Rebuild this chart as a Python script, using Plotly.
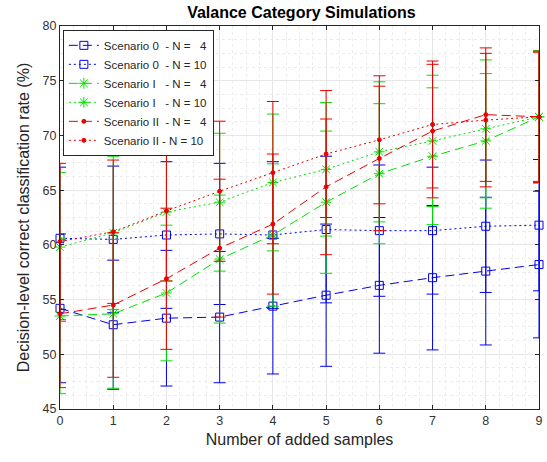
import plotly.graph_objects as go

samples = list(range(10))

s0_n4 = [54.2, 52.7, 53.3, 53.4, 54.4, 55.4, 56.3, 57.0, 57.6, 58.2]
s0_n10 = [60.6, 60.5, 60.9, 61.0, 60.9, 61.4, 61.3, 61.3, 61.7, 61.8]
sI_n4 = [53.5, 53.7, 55.6, 58.7, 60.9, 63.9, 66.5, 68.1, 69.5, 71.7]
sI_n10 = [59.8, 61.1, 63.0, 63.9, 65.7, 66.9, 68.5, 69.5, 70.6, 71.7]
sII_n4 = [53.7, 54.5, 56.9, 59.7, 61.9, 65.3, 67.9, 70.4, 71.9, 71.7]
sII_n10 = [60.3, 61.2, 63.1, 64.9, 66.6, 68.3, 69.6, 71.0, 71.4, 71.7]

e0_n4 = [6.8, 5.9, 6.2, 6.0, 6.2, 6.5, 6.2, 6.6, 6.75, 6.7]
e0_n10 = [6.5, 6.7, 6.7, 6.45, 6.7, 6.7, 6.0, 5.8, 6.05, 6.0]
eI_n4 = [7.1, 6.8, 6.2, 5.85, 6.5, 6.5, 6.4, 6.25, 6.15, 6.05]
eI_n10 = [6.8, 7.0, 6.3, 6.3, 6.25, 6.1, 6.4, 6.0, 6.3, 6.05]
eII_n4 = [6.75, 6.6, 6.45, 6.3, 6.4, 6.2, 6.6, 6.1, 6.1, 6.0]
eII_n10 = [7.15, 6.55, 6.4, 6.4, 6.5, 5.8, 5.85, 5.8, 6.1, 5.9]

NB = "\u00a0"
names = [
    f"Scenario 0{NB*2}- N = {NB*2}4",
    f"Scenario 0{NB*2}- N = 10",
    f"Scenario I{NB*3}- N = {NB*2}4",
    f"Scenario I{NB*3}- N = 10",
    f"Scenario II{NB*2}- N = {NB*2}4",
    f"Scenario II{NB}- N = 10",
]

BLUE = "rgb(0,0,235)"
GREEN = "rgb(0,225,0)"
RED = "rgb(235,0,0)"
DASH = "9px,5px"
DOT = "2px,3px"

series = [
    (s0_n4, e0_n4, BLUE, DASH, "square-open", 8),
    (s0_n10, e0_n10, BLUE, DOT, "square-open", 8),
    (sI_n4, eI_n4, GREEN, DASH, "asterisk-open", 9),
    (sI_n10, eI_n10, GREEN, DOT, "asterisk-open", 9),
    (sII_n4, eII_n4, RED, DASH, "circle", 4),
    (sII_n10, eII_n10, RED, DOT, "circle", 4),
]

fig = go.Figure()
for name, (vals, errs, col, dash, sym, msize) in zip(names, series):
    fig.add_trace(go.Scatter(
        x=samples, y=vals, name=name, mode="lines+markers",
        line=dict(color=col, width=1, dash=dash),
        marker=dict(symbol=sym, size=msize, color=col,
                    line=dict(color=col, width=1)),
        error_y=dict(type="data", array=errs, visible=True,
                     color=col, thickness=1, width=6),
        cliponaxis=False,
    ))

FONT = "Arial, Liberation Sans, Helvetica, sans-serif"
axis_common = dict(
    showline=True, linecolor="#262626", linewidth=1, mirror="allticks",
    ticks="inside", ticklen=4, tickcolor="#262626", zeroline=False,
    showgrid=True, gridcolor="#e6e6e6", gridwidth=1,
    tickfont=dict(family=FONT, size=12.5, color="#333333"),
)

minor_common = dict(showgrid=True, gridcolor="#ececec", griddash="dot", ticks="")

fig.update_xaxes(
    range=[0, 9], tick0=0, dtick=1,
    minor=dict(dtick=0.25, **minor_common),
    title=dict(text="Number of added samples", font=dict(family=FONT, size=16, color="#262626"), standoff=6),
    **axis_common,
)
fig.update_yaxes(
    range=[45, 80], tick0=45, dtick=5,
    minor=dict(dtick=1.25, **minor_common),
    title=dict(text="Decision-level correct classification rate (%)", font=dict(family=FONT, size=16, color="#262626"), standoff=8),
    **axis_common,
)

fig.update_layout(
    width=547, height=462,
    margin=dict(l=60, r=4, t=26, b=53),
    paper_bgcolor="white", plot_bgcolor="white",
    title=dict(text="<b>Valance Category Simulations</b>", x=0.551, xanchor="center",
               y=(462 - 12) / 462, yanchor="middle", yref="container",
               font=dict(family=FONT, size=16, color="#000000")),
    legend=dict(x=0.006, y=0.99, xanchor="left", yanchor="top",
                bgcolor="white", bordercolor="#262626", borderwidth=1,
                font=dict(family=FONT, size=11.5, color="#262626"),
                tracegroupgap=0),
    showlegend=True,
)

fig.write_html("out.html")
